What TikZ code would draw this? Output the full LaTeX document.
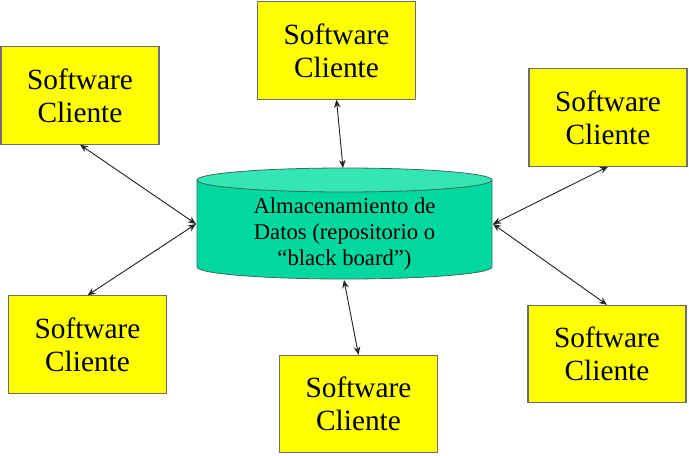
\documentclass[tikz,border=0pt]{standalone}
\usepackage{fontspec}
\setmainfont{Liberation Serif}
\definecolor{clientfill}{HTML}{FFFF00}
\definecolor{clientedge}{HTML}{6E6E6E}
\definecolor{storebody}{HTML}{00D8A0}
\definecolor{storetop}{HTML}{33E6B4}
\definecolor{storeedge}{HTML}{3C6A5C}
\usetikzlibrary{arrows.meta}

\begin{document}
\begin{tikzpicture}[x=0.75pt, y=-0.75pt,
  client/.style={draw=clientedge, fill=clientfill, line width=0.8pt, minimum width=118.5pt, minimum height=73pt, align=center, font=\fontsize{22}{25}\selectfont, inner sep=0pt},
  store/.style={align=center, font=\fontsize{17}{19.5}\selectfont, inner sep=0pt},
  link/.style={{Stealth[length=6pt,width=5pt]}-{Stealth[length=6pt,width=5pt]}, line width=0.7pt, color=black!85}
]
\useasboundingbox (0,0) rectangle (689,455);
% data store cylinder
\fill[storebody, draw=storeedge, line width=0.6pt] (197,180) -- (197,267)
  arc[start angle=180, end angle=0, x radius=147.5, y radius=12] -- (492,180) -- cycle;
\draw[storeedge, fill=storetop, line width=0.6pt] (344.5,180) ellipse [x radius=147.5, y radius=12];
\node[store] (db) at (344.5,234) {Almacenamiento de\\Datos (repositorio o\\“black board”)};
\coordinate (dbN) at (343,168);
\coordinate (dbS) at (344,280);
\coordinate (dbW) at (196,224);
\coordinate (dbE) at (493,224);
% clients
\foreach \n/\x/\y in {tl/80/95.5, tc/336.5/50.5, tr/608/117.5, bl/87.5/344.5, bc/358.5/404, br/607/354} {
    \node[client] (\n) at (\x,\y) {Software\\Cliente};
  }
\draw[link] (tl.south) -- (dbW);
\draw[link] (bl.north) -- (dbW);
\draw[link] (tc.south) -- (dbN);
\draw[link] (bc.north) -- (dbS);
\draw[link] (tr.south) -- (dbE);
\draw[link] (br.north) -- (dbE);
\end{tikzpicture}
\end{document}
